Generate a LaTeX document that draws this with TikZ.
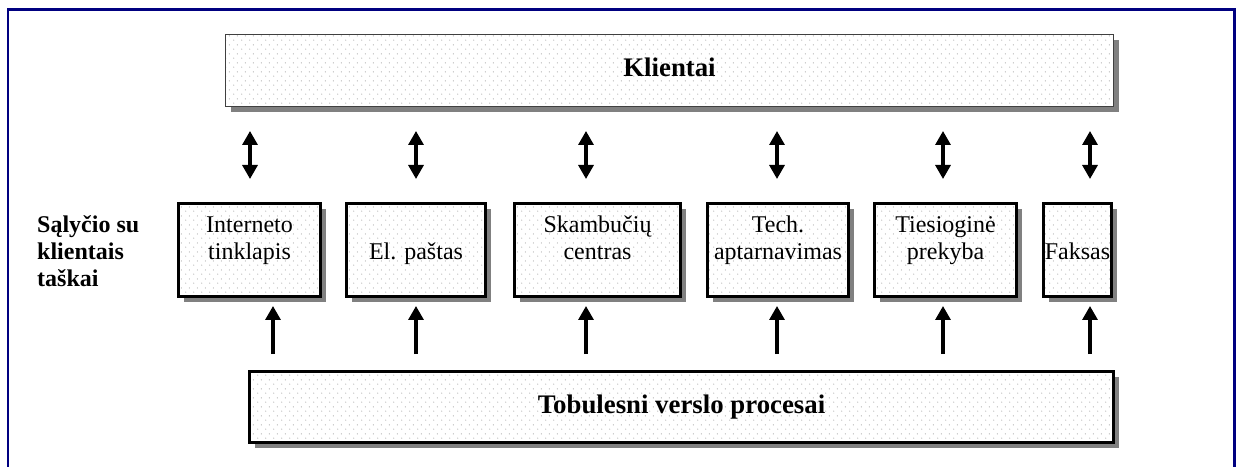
\documentclass[tikz,border=0pt]{standalone}
\usepackage{fontspec}
\setmainfont{Liberation Serif}
\usetikzlibrary{arrows.meta,shadows,patterns.meta}
\definecolor{framenavy}{RGB}{0,0,128}
% staggered dot raster used inside the boxes
\tikzdeclarepattern{
  name=staggered dots,
  type=uncolored,
  bounding box={(0pt,0pt) and (8pt,8.6pt)},
  tile size={(8pt,8.6pt)},
  code={
    \fill (2pt,2pt) circle (0.55pt);
    \fill (6pt,6.3pt) circle (0.55pt);
  }
}
\begin{document}
\begin{tikzpicture}[x=1pt,y=1pt,
  dotted fill/.style={preaction={fill=white},
    pattern=staggered dots, pattern color=black!45},
  shade box/.style={drop shadow={shadow xshift=5.5pt,shadow yshift=-5.5pt,
    fill=black!50,opacity=1}},
  topbox/.style={rectangle,inner sep=0pt,draw=black!75,line width=1.3pt,
    shade box,dotted fill},
  pointbox/.style={rectangle,inner sep=0pt,draw=black,line width=2.6pt,
    minimum height=93.4pt,shade box,dotted fill},
  boxtext/.style={font=\fontsize{24}{27.6}\selectfont,align=center,anchor=base,inner sep=0pt},
  titletext/.style={font=\fontsize{26.8}{30}\selectfont\bfseries,anchor=base,inner sep=0pt},
  twoway/.style={line width=3.2pt,
    {Triangle[width=15pt,length=14pt]}-{Triangle[width=15pt,length=14pt]},
    shorten <=24pt,shorten >=23pt},
  oneway/.style={line width=3.2pt,-{Triangle[width=15pt,length=14pt]},
    shorten <=16pt,shorten >=8pt}]
\useasboundingbox (0,0) rectangle (1236,466);

% outer frame (open at the bottom)
\draw[framenavy,line width=2.6pt] (8,-5) -- (8,456.5) -- (1234.5,456.5) -- (1234.5,-5);

% customers
\node[topbox,minimum width=887.7pt,minimum height=71.7pt] (clients) at (669.5,395.5) {};
\node[titletext] (clientsT) at (669.5,389) {Klientai};

% contact points
\node[pointbox,minimum width=142.4pt] (b1) at (249.5,216) {};
\node[pointbox,minimum width=139.4pt] (b2) at (416,216) {};
\node[pointbox,minimum width=166.4pt] (b3) at (597.5,216) {};
\node[pointbox,minimum width=141.4pt] (b4) at (778,216) {};
\node[pointbox,minimum width=142.4pt] (b5) at (945.5,216) {};
\node[pointbox,minimum width=68.4pt] (b6) at (1077.5,216) {};

% text labels; the base anchor sits on the last line
\node[boxtext] (t1) at (249.5,206) {Interneto\\tinklapis};
\node[boxtext] (t2) at (416,206) {El. paštas};
\node[boxtext] (t3) at (597.5,206) {Skambučių\\centras};
\node[boxtext] (t4) at (778,206) {Tech.\\aptarnavimas};
\node[boxtext] (t5) at (945.5,206) {Tiesioginė\\prekyba};
\node[boxtext] (t6) at (1077.5,206) {Faksas};

\node[font=\fontsize{24}{27.2}\selectfont\bfseries,align=left,anchor=base west,inner sep=0pt]
  (lbl) at (37,179) {Sąlyčio su\\klientais\\taškai};

% business processes
\node[pointbox,minimum width=864.4pt,minimum height=71.4pt] (proc) at (681.5,59) {};
\node[titletext] (procT) at (681.5,53) {Tobulesni verslo procesai};

% arrow columns
\coordinate (u1) at (250,0);
\coordinate (v1) at (273,0);
\coordinate (u2) at (416,0);
\coordinate (u3) at (586,0);
\coordinate (u4) at (777,0);
\coordinate (u5) at (943,0);
\coordinate (u6) at (1090,0);

\draw[twoway] (clients.south -| u1) -- (b1.north -| u1);
\draw[twoway] (clients.south -| u2) -- (b2.north -| u2);
\draw[twoway] (clients.south -| u3) -- (b3.north -| u3);
\draw[twoway] (clients.south -| u4) -- (b4.north -| u4);
\draw[twoway] (clients.south -| u5) -- (b5.north -| u5);
\draw[twoway] (clients.south -| u6) -- (b6.north -| u6);

\draw[oneway] (proc.north -| v1) -- (b1.south -| v1);
\draw[oneway] (proc.north -| u2) -- (b2.south -| u2);
\draw[oneway] (proc.north -| u3) -- (b3.south -| u3);
\draw[oneway] (proc.north -| u4) -- (b4.south -| u4);
\draw[oneway] (proc.north -| u5) -- (b5.south -| u5);
\draw[oneway] (proc.north -| u6) -- (b6.south -| u6);
\end{tikzpicture}
\end{document}
